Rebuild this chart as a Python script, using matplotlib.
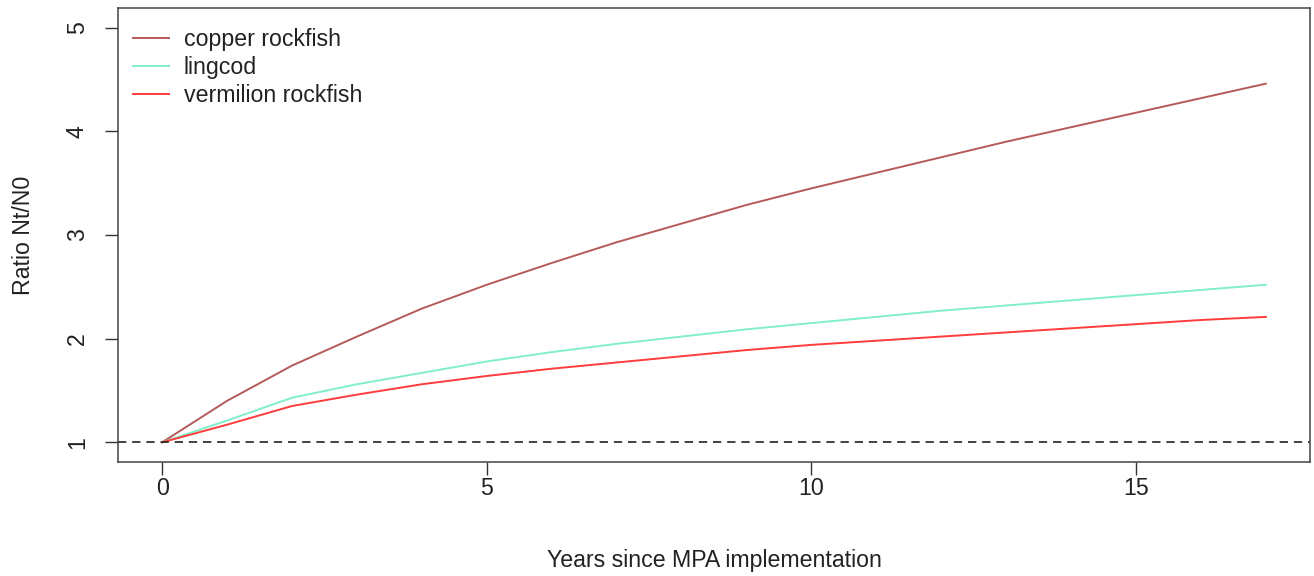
import matplotlib
matplotlib.use("Agg")
import matplotlib.pyplot as plt

years = list(range(0, 18))
copper = [1.00, 1.40, 1.74, 2.02, 2.29, 2.52, 2.73, 2.93, 3.11, 3.29, 3.45,
          3.60, 3.75, 3.90, 4.04, 4.18, 4.32, 4.46]
lingcod = [1.00, 1.21, 1.43, 1.56, 1.67, 1.78, 1.87, 1.95, 2.02, 2.09, 2.15,
           2.21, 2.27, 2.32, 2.37, 2.42, 2.47, 2.52]
vermilion = [1.00, 1.17, 1.35, 1.46, 1.56, 1.64, 1.71, 1.77, 1.83, 1.89, 1.94,
             1.98, 2.02, 2.06, 2.10, 2.14, 2.18, 2.21]
series_names = ["copper rockfish", "lingcod", "vermilion rockfish"]
colors = ["#b55a5a", "#80efc9", "#ff3c3c"]
xticks = [0, 5, 10, 15]
yticks = [1, 2, 3, 4, 5]

plt.rcParams['font.family'] = ['Liberation Sans', 'DejaVu Sans']
fs = 16.7

fig = plt.figure(figsize=(13.14, 5.76), dpi=100)
ax = fig.add_axes([118/1314, 1-462/576, (1310-118)/1314, (462-8)/576])

for name, vals, c in zip(series_names, [copper, lingcod, vermilion], colors):
    ax.plot(years, vals, color=c, lw=1.4, label=name)

ax.axhline(1, color='#222222', lw=1.2, ls=(0, (5, 3.5)))

ax.set_xlim(-0.68, 17.68)
ax.set_ylim(0.81, 5.19)
ax.set_xticks(xticks)
ax.set_yticks(yticks)
ax.tick_params(axis='both', direction='out', length=9.5, width=1, color='#333333',
               labelsize=fs, labelcolor='#222222')
ax.tick_params(axis='x', pad=1.5)
ax.tick_params(axis='y', pad=11.5)
for lab in ax.get_yticklabels():
    lab.set_rotation(90)
    lab.set_va('center')
for s in ax.spines.values():
    s.set_color('#444444')
    s.set_linewidth(1.1)

ax.set_xlabel("Years since MPA implementation", fontsize=fs, color='#222222', labelpad=35)
ax.set_ylabel("Ratio Nt/N0", fontsize=fs, color='#222222', labelpad=22)

leg = ax.legend(loc='upper left', bbox_to_anchor=(0.007, 0.972), frameon=False,
                fontsize=fs, handlelength=1.55, handletextpad=0.62,
                labelspacing=0.22, borderaxespad=0, borderpad=0.3)
for t in leg.get_texts():
    t.set_color('#222222')

fig.savefig("out.png", dpi=100, facecolor='white')
